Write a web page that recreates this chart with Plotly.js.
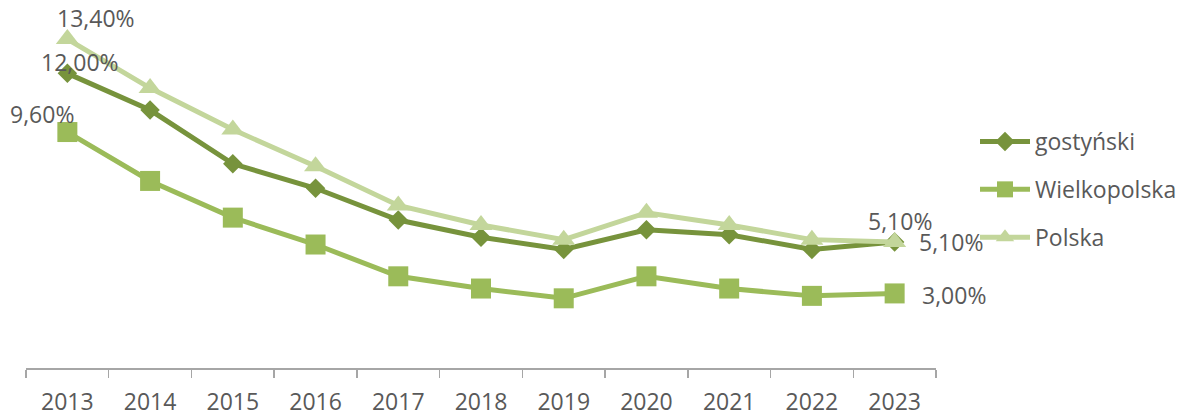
<!DOCTYPE html>
<html>
<head>
<meta charset="utf-8">
<script src="https://cdn.plot.ly/plotly-3.0.1.min.js"></script>
<style>html,body{margin:0;padding:0;background:#fff;}#chart{width:1194px;height:412px;}</style>
</head>
<body>
<div id="chart"></div>
<script>
const years = ["2013","2014","2015","2016","2017","2018","2019","2020","2021","2022","2023"];
const gostynski = [12.0, 10.5, 8.3, 7.3, 6.0, 5.3, 4.8, 5.6, 5.4, 4.8, 5.1];
const wielkopolska = [9.6, 7.6, 6.1, 5.0, 3.7, 3.2, 2.8, 3.7, 3.2, 2.9, 3.0];
const polska = [13.4, 11.4, 9.7, 8.2, 6.6, 5.8, 5.2, 6.3, 5.8, 5.2, 5.1];
const seriesNames = ["gostyński", "Wielkopolska", "Polska"];

const txtColor = "#595959";
const font = "Open Sans, sans-serif";
const fmt = v => v.toFixed(2).replace(".", ",") + "%";

const data = [
  {name: seriesNames[0], y: gostynski, color: "#77933C", symbol: "diamond", size: 15, group: "a"},
  {name: seriesNames[1], y: wielkopolska, color: "#9BBB59", symbol: "square", size: 20, group: "b"},
  {name: seriesNames[2], y: polska, color: "#C3D69B", symbol: "triangle-up", size: 20, group: "c"}
].map(s => ({
  type: "scatter", mode: "lines+markers", x: years, y: s.y, name: s.name,
  legendgroup: s.group,
  line: {color: s.color, width: 5},
  marker: {color: s.color, symbol: s.symbol, size: s.size, line: {width: 0}},
  cliponaxis: false
}));

const last = years.length - 1;
const labels = [
  {i: 0, y: polska[0], dx: 29, dy: 21},
  {i: 0, y: gostynski[0], dx: 13, dy: 11},
  {i: 0, y: wielkopolska[0], dx: -25, dy: 18},
  {i: last, y: polska[last], dx: 5, dy: 21},
  {i: last, y: gostynski[last], dx: 56, dy: 0},
  {i: last, y: wielkopolska[last], dx: 59, dy: -2}
];
const annotations = labels.map(l => ({
  x: l.i, y: l.y, xref: "x", yref: "y", text: fmt(l.y), showarrow: false,
  xanchor: "center", yanchor: "middle", xshift: l.dx, yshift: l.dy,
  font: {family: font, size: 23, color: txtColor}
}));

const layout = {
  width: 1194, height: 412,
  margin: {l: 26, r: 258, t: 0, b: 44},
  paper_bgcolor: "#fff", plot_bgcolor: "#fff",
  font: {family: font, size: 23, color: txtColor},
  showlegend: true,
  legend: {
    x: 975/1194, xref: "container", xanchor: "left",
    y: 1 - 120/412, yref: "container", yanchor: "top",
    font: {family: font, size: 23, color: txtColor},
    tracegroupgap: 15, itemwidth: 50, bgcolor: "rgba(0,0,0,0)"
  },
  xaxis: {
    type: "category", range: [-0.5, 10.5], tickson: "boundaries",
    ticks: "outside", ticklen: 8, tickcolor: "#a6a6a6", tickwidth: 1.5,
    showline: true, linecolor: "#a6a6a6", linewidth: 1.5,
    showgrid: false, zeroline: false, fixedrange: true, ticklabelstandoff: 13,
    tickfont: {family: font, size: 23, color: txtColor}
  },
  yaxis: {range: [-0.05, 15.0], visible: false, showgrid: false, zeroline: false},
  annotations: annotations
};

Plotly.newPlot("chart", data, layout, {displayModeBar: false, staticPlot: true});
</script>
</body>
</html>
